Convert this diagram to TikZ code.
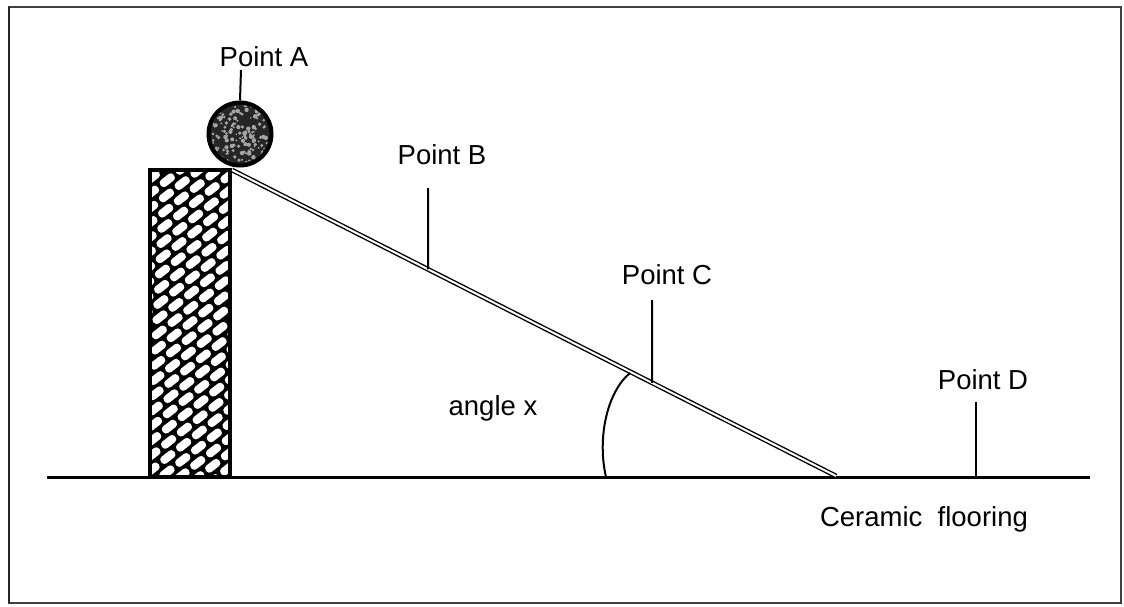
\documentclass[tikz,border=0pt]{standalone}
\usepackage{fontspec}
\setmainfont{Liberation Sans}
\usetikzlibrary{calc}
\begin{document}
\begin{tikzpicture}[x=1pt,y=-1pt,
  lbl/.style={font=\fontsize{27.5}{32}\selectfont, inner sep=0pt, anchor=center},
  marker/.style={line width=2pt},
  floorline/.style={line width=3pt},
  slope/.style={line width=1.4pt, double=white, double distance=2pt},
  brick/.style={fill=white, rounded corners=3.5pt}]
\useasboundingbox (0,0) rectangle (1124,606);
\fill[white] (0,0) rectangle (1124,606);

% outer frame
\draw[line width=1.5pt, black!75] (9,7) rectangle (1121,603);
\draw[line width=2.5pt, black!85] (9,7) -- (9,603);

% floor
\coordinate (g0) at (47,477);
\coordinate (g1) at (1090,477);
\draw[floorline] (g0) -- (g1);

% brick pillar
\begin{scope}
  \clip (150,170) rectangle (230,477);
  \fill[black] (150,170) rectangle (230,477);
  \begin{scope}[shift={(190,323)}, rotate=38]
    \foreach \j in {-22,...,22}{
      \foreach \i in {-11,...,11}{
        \pgfmathsetmacro\xo{\i*20+mod(\j+100,2)*10}
        \pgfmathsetmacro\yo{\j*11.5}
        \fill[brick] (\xo-8.3,\yo-4.1) rectangle (\xo+8.3,\yo+4.1);
      }
    }
  \end{scope}
\end{scope}
\draw[line width=4pt] (150,170) rectangle (230,477);

% ramp
\coordinate (rampTop) at (232,170);
\coordinate (rampBot) at (836,476);
\draw[slope] (rampTop) -- (rampBot);

% ball
\node[circle, minimum size=64pt, inner sep=0pt, fill=black!85, draw=black, line width=3pt] (ball) at (240,134) {};
\begin{scope}
  \clip (240,134) circle (29);
  \pgfmathsetseed{7}
  \foreach \k in {1,...,160}{
    \pgfmathsetmacro\px{240+rand*29}
    \pgfmathsetmacro\py{134+rand*29}
    \pgfmathsetmacro\pr{0.8+rnd*1.5}
    \fill[black!35] (\px,\py) circle (\pr);
  }
\end{scope}
\draw[line width=3.2pt] (ball) circle (31);

% labels
\node[lbl] (labA) at (264,57) {Point A};
\node[lbl] (labB) at (442,155) {Point B};
\node[lbl] (labC) at (667,275) {Point C};
\node[lbl] (labD) at (983,380) {Point D};
\node[lbl] (labX) at (493,408) {angle x};
\node[lbl] (labF) at (924,519) {Ceramic\ \ flooring};

% marker lines
\coordinate (tA) at (241,70);
\coordinate (tB) at (428,188);
\coordinate (tC) at (652,300);
\coordinate (tD) at (976,402);
\coordinate (fB) at ($(rampTop)!0.3245!(rampBot)$);
\coordinate (fC) at ($(rampTop)!0.6954!(rampBot)$);
\coordinate (fD) at (976,477);
\draw[marker] (tA) -- (ball.north);
\draw[marker] (tB) -- (fB);
\draw[marker] (tC) -- (fC);
\draw[marker] (tD) -- (fD);

% angle arc
\coordinate (arcTop) at (630,373);
\coordinate (arcBot) at (606,477);
\draw[line width=2pt] (arcTop) .. controls (607,392) and (597,438) .. (arcBot);
\end{tikzpicture}
\end{document}
